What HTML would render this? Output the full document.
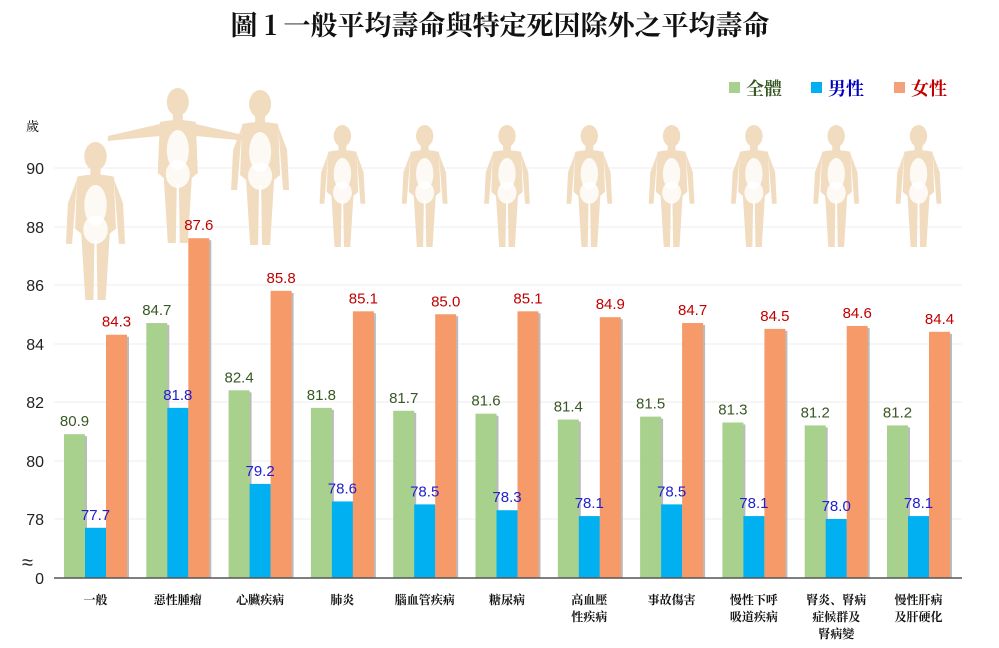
<!DOCTYPE html>
<html><head><meta charset="utf-8"><style>
body{margin:0;background:#fff;}
svg{display:block;font-family:"Liberation Sans","Noto Sans CJK TC",sans-serif;}
</style></head><body>
<svg id="s" width="999" height="648" viewBox="0 0 999 648" xmlns="http://www.w3.org/2000/svg">
<text x="500" y="35" text-anchor="middle" font-family="'Noto Serif CJK SC','Liberation Serif',serif" font-weight="bold" font-size="27" fill="#111">圖 1  一般平均壽命與特定死因除外之平均壽命</text>
<g id="grid"></g><g id="figs"></g><g id="bars"></g><g id="labs"></g>
<g font-size="18" font-family="'Noto Serif CJK SC',serif" font-weight="bold">
<rect x="729" y="82" width="11" height="11" fill="#a9d18e"/><text x="746" y="95" fill="#385723">全體</text>
<rect x="811" y="82" width="11" height="11" fill="#00b0f0"/><text x="828" y="95" fill="#0000c0">男性</text>
<rect x="894" y="82" width="11" height="11" fill="#f4a07a"/><text x="911" y="95" fill="#c00000">女性</text>
</g>
<text x="26" y="131" font-size="13" font-family="'Noto Serif CJK SC',serif">歲</text>
<line x1="54" y1="578" x2="962" y2="578" stroke="#555" stroke-width="1.5"/>
<text x="22" y="569" font-size="20" fill="#222">≈</text>
</svg>
<script>
var s=document.getElementById('s'),NS='http://www.w3.org/2000/svg';
function el(p,t,a,txt){var e=document.createElementNS(NS,t);for(var k in a)e.setAttribute(k,a[k]);if(txt!=null)e.textContent=txt;document.getElementById(p).appendChild(e);return e;}
var ticks=[[90,168],[88,227],[86,285],[84,344],[82,402],[80,461],[78,519],[0,578]];
ticks.forEach(function(t){if(t[0])el('grid','line',{x1:54,x2:962,y1:t[1],y2:t[1],stroke:'#ececec'});el('grid','text',{x:44,y:t[1]+6,'text-anchor':'end','font-size':16,fill:'#222'},t[0]);});
var G=[80.9,84.7,82.4,81.8,81.7,81.6,81.4,81.5,81.3,81.2,81.2],M=[77.7,81.8,79.2,78.6,78.5,78.3,78.1,78.5,78.1,78.0,78.1],F=[84.3,87.6,85.8,85.1,85.0,85.1,84.9,84.7,84.5,84.6,84.4];
var L=[["一般"],["惡性腫瘤"],["心臟疾病"],["肺炎"],["腦血管疾病"],["糖尿病"],["高血壓","性疾病"],["事故傷害"],["慢性下呼","吸道疾病"],["腎炎、腎病","症候群及","腎病變"],["慢性肝病","及肝硬化"]];
function y(v){return 519-(v-78)*29.25;}
function fig(cx,top,h,spread){var k=h/155,c='#f1dcc0';
 var g=el('figs','g',{transform:'translate('+cx+','+top+') scale('+k+')',fill:c});
 function a(t,o){var e=document.createElementNS(NS,t);for(var q in o)e.setAttribute(q,o[q]);g.appendChild(e);}
 a('ellipse',{cx:0,cy:14,rx:11,ry:14});a('rect',{x:-5,y:26,width:10,height:8});
 a('path',{d:'M-18 34 Q0 30 18 34 L20 85 L14 90 L10 155 L2 155 L1 95 L-1 95 L-2 155 L-10 155 L-14 90 L-20 85 Z'});
 if(spread){a('path',{d:'M-18 36 L-70 48 L-70 53 L-18 48 Z'});a('path',{d:'M18 36 L70 48 L70 53 L18 48 Z'});}
 else{a('path',{d:'M-18 36 L-27 60 L-29 100 L-23 100 L-20 62 Z'});a('path',{d:'M18 36 L27 60 L29 100 L23 100 L20 62 Z'});}
 if(top>60){a('ellipse',{cx:0,cy:62,rx:11,ry:20,fill:'#fff',opacity:.85});a('ellipse',{cx:0,cy:86,rx:12,ry:14,fill:'#fff',opacity:.85});}
 else{a('ellipse',{cx:0,cy:58,rx:11,ry:18,fill:'#e00',opacity:.85});}
}
for(var i=0;i<11;i++){var x0=64+82.3*i,cx=x0+31.5;
 if(i==0)fig(cx,142,158,false);else if(i==1)fig(cx,88,155,true);else if(i==2)fig(cx,90,155,false);else fig(cx,125,122,false);
 [[G[i],'#a9d18e','#385723',0],[M[i],'#00b0f0','#2020d0',21],[F[i],'#f79a6a','#c00000',42]].forEach(function(b){
  var yy=y(b[0]);el('bars','rect',{x:x0+b[3]+2,y:yy+2,width:21,height:578-yy-2,fill:'#bbb'});
  el('bars','rect',{x:x0+b[3],y:yy,width:21,height:578-yy,fill:b[1]});
  el('labs','text',{x:x0+b[3]+10.5,y:yy-8,'text-anchor':'middle','font-size':15,fill:b[2]},b[0].toFixed(1));});
 L[i].forEach(function(t,j){el('labs','text',{x:cx,y:604+j*17,'text-anchor':'middle','font-size':12,'font-weight':'bold','font-family':"'Noto Serif CJK SC',serif",fill:'#111'},t);});
}
</script>
</body></html>
